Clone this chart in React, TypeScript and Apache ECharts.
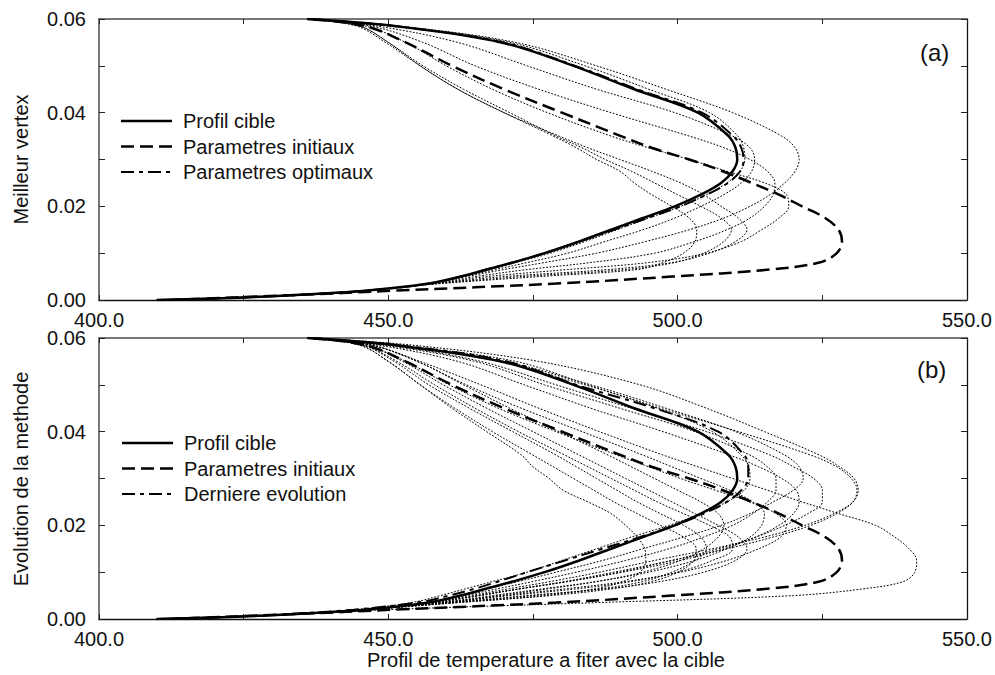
import React, { useEffect, useRef } from 'react';
import * as echarts from 'echarts';

// Shared y levels (vertical axis) at which every profile is sampled
const yLevels = [0, 0.0005, 0.001, 0.002, 0.0035, 0.005, 0.0065, 0.008, 0.01, 0.0125, 0.015, 0.0175, 0.02, 0.0225, 0.025, 0.0275, 0.03, 0.0325, 0.035, 0.04, 0.045, 0.05, 0.055, 0.0585, 0.06];

const xTickLabels = ['400.0', '450.0', '500.0', '550.0'];
const yTickLabels = ['0.00', '0.02', '0.04', '0.06'];

// Common curves
const profilCible = [410, 424, 433, 446, 457, 462.5, 467, 471.5, 477, 483, 488.5, 494, 499.5, 504, 507.5, 509.5, 510.3, 510, 508.8, 503.5, 492.5, 482, 469.5, 451, 436];
const parametresInitiaux = [412, 422, 433, 451, 479, 499, 516, 524.5, 527.5, 528.4, 527.8, 525.5, 521.5, 517.5, 512.8, 507.8, 502, 495.5, 490.2, 480, 470, 461, 453, 446, 436];

// Panel (a)
const parametresOptimaux = [410, 424, 433, 446, 457, 462.5, 467, 471.5, 477, 483, 489, 494.8, 500.5, 505, 508.7, 510.8, 511.4, 511, 509.6, 504.2, 493, 482.3, 469.8, 451, 436];
const vertexA1 = [410, 424, 433, 446, 457, 463.5, 470, 477, 486, 494.5, 502, 508, 512.5, 516, 518.5, 520.3, 521, 520.3, 518, 509.5, 498, 486, 472, 452, 437];
const vertexA2 = [410, 424, 433, 446, 457, 462.5, 467.5, 472, 478, 484, 489.5, 495, 500.5, 505, 508.5, 510.8, 511.6, 511.4, 510.4, 505.5, 495, 484, 471, 451.5, 436];
const vertexA3 = [410, 424, 433, 446, 457, 463, 468.5, 474, 481, 487.5, 494, 499.5, 504, 508, 511, 512.8, 513.3, 512.5, 509.5, 499.5, 486, 474, 462, 448, 436];
const vertexA4 = [410, 424, 433, 446, 457.5, 465, 474, 485, 496, 503, 508.5, 512.5, 515, 516.5, 516.8, 515.5, 512.5, 508, 502, 488.5, 476, 465, 456, 447, 436];
const vertexA5 = [410, 424, 433, 446, 458, 467, 481, 495, 505, 511, 514.5, 517.5, 519.2, 518.8, 515, 508.5, 502, 495, 488.5, 477.5, 468, 460, 453, 446, 436];
const vertexA6 = [410, 424, 433, 446, 458, 470, 488, 499, 505.5, 510, 512, 510.5, 507.5, 504.5, 500.5, 495.5, 490, 484.5, 479.5, 470, 462, 455.5, 450, 445, 436];
const vertexA7 = [410, 424, 433, 446, 458.5, 473, 491, 499.5, 504.5, 508, 509.3, 507.5, 504, 500, 496, 492, 487.5, 483.5, 479, 471, 463, 456, 450, 445, 436];
const vertexA8 = [410, 424, 433, 446, 459, 476, 493, 497.5, 501, 503, 503.3, 502, 499, 495.5, 492.5, 490, 486, 482.5, 478.5, 470, 462, 455.5, 449.5, 444.5, 436];

// Panel (b)
const derniereEvolution = [410, 423, 432, 444, 455, 460.5, 465, 469, 474, 480.5, 487, 493.5, 499.5, 504.5, 508.5, 511, 512.2, 512.2, 511.5, 507, 496, 482.5, 470.5, 451.5, 436];
const evolB1 = [410, 424, 434, 450, 486, 520, 532.5, 539, 541, 541.3, 540, 537.5, 534.2, 527.8, 521.5, 515.5, 509.5, 503.5, 497.5, 486.5, 476, 466, 455.5, 447, 436];
const evolB2 = [410, 424, 433, 446, 457, 464, 471, 478, 486.5, 496, 506, 515, 522, 527, 530.3, 531.2, 530.5, 528, 524.5, 515, 505, 493.5, 476, 454, 437];
const evolB3 = [410, 424, 433, 446, 457.5, 465.5, 473, 480.5, 489, 499, 508.5, 516.5, 523, 527.5, 530.3, 531, 530, 527.5, 523, 510.5, 497, 484, 469, 450, 436];
const evolB4 = [410, 424, 433, 446, 458, 466, 473, 481, 490, 499, 507, 513.5, 518.5, 522.5, 525, 525, 523.5, 520, 516, 505, 492, 479, 466, 450, 436];
const evolB5 = [410, 424, 433, 446, 457, 462, 467, 472.5, 479, 487, 494, 501, 507.5, 512.5, 516.5, 520, 521.7, 521, 518.5, 510, 498, 485, 470, 451, 436];
const evolB6 = [410, 424, 433, 446, 457, 463, 469, 475, 482.5, 491, 498.5, 504.5, 509.5, 513, 515.5, 517, 517, 515.5, 512.5, 503, 490, 477, 465, 449, 436];
const evolB7 = [410, 423, 432, 444, 454, 459, 463.5, 468, 474, 480, 486, 492, 498.5, 504, 508.5, 511.5, 512.5, 512.3, 511, 506, 496.5, 484.5, 472, 451, 436];
const evolB8 = [410, 424, 433, 446, 458, 465, 473, 481, 490.5, 500.5, 508, 513.5, 517.5, 520, 521, 520.5, 518, 514, 509, 497.5, 485, 473.5, 462, 448, 436];
const evolB9 = [410, 424, 433, 446, 460, 470, 481, 491, 500.5, 508.5, 514, 517.8, 518.8, 517, 512.5, 506.5, 500.5, 495, 489.5, 479, 469, 460.5, 453, 446, 436];
const evolB10 = [410, 424, 433, 446, 461, 474, 488, 497, 504.5, 510, 512, 510.5, 507, 503, 499, 495, 491, 487, 483, 475, 467, 459.5, 452.5, 446, 436];
const evolB11 = [410, 424, 433, 446, 460, 471, 483, 492, 500, 506, 509.5, 509, 505.5, 501, 496.5, 492.5, 488.5, 484.5, 480.5, 472.5, 465, 458, 451.5, 445.5, 436];
const evolB12 = [410, 424, 433, 446, 461, 475, 487, 494, 499, 503, 505, 504, 501, 497, 493, 489.5, 486, 482.5, 479, 471.5, 464, 457, 451, 445.5, 436];
const evolB13 = [410, 424, 433, 446, 462, 478, 489, 495.5, 500, 502.8, 503.2, 501, 497, 493, 489, 485.5, 482, 478.5, 475, 468, 461.5, 455.5, 450, 445, 436];
const evolB14 = [410, 424, 433, 446, 462, 477, 486, 490.5, 493.5, 494.5, 494.3, 493, 491, 488.5, 484.5, 480.2, 477.8, 475, 473, 467, 461, 455.5, 450, 445, 436];
const evolB15 = [410, 424, 433, 446, 459, 468, 477, 486, 495, 503, 508.5, 512.5, 514.5, 515, 513, 509, 504, 499, 494, 483.5, 473, 463.5, 455, 447, 436];
const evolB16 = [410, 424, 433, 446, 459, 469, 478, 486, 494, 500.5, 504.5, 507, 508, 507, 504, 500, 496, 492, 488, 479.5, 471, 463, 455, 447, 436];

const dottedA = [vertexA1, vertexA2, vertexA3, vertexA4, vertexA5, vertexA6, vertexA7, vertexA8];
const dottedB = [evolB1, evolB2, evolB3, evolB4, evolB5, evolB6, evolB7, evolB8, evolB9, evolB10, evolB11, evolB12, evolB13, evolB14, evolB15, evolB16];

const FONT = 'Liberation Sans, Arial, Helvetica, sans-serif';
const SOLID_W = 2.5;
const DASH = [13, 6];
const DASHDOT = [13, 5, 4, 5];

const pairs = (xs: number[]) => xs.map((x, i) => [x, yLevels[i]]);

const findLabel = (labels: string[], v: number) => {
  const l = labels.find((s) => Math.abs(parseFloat(s) - v) < 1e-9);
  return l === undefined ? '' : l;
};

export default function App() {
  const ref = useRef<HTMLDivElement>(null);
  useEffect(() => {
    if (!ref.current) return;
    const chart = echarts.init(ref.current, undefined, { renderer: 'svg' });
    const darkLine = { color: '#111', width: 1.3 };
    const greyLine = { color: '#777', width: 2 };
    const tickStyle = { color: '#222', width: 1 };

    const grids = [
      { left: 99, top: 19, width: 868, height: 281 },
      { left: 99, top: 338, width: 868, height: 281 },
    ];

    const xAxes: any[] = [];
    const yAxes: any[] = [];
    grids.forEach((_, gi) => {
      ['bottom', 'top'].forEach((pos) => {
        xAxes.push({
          gridIndex: gi,
          type: 'value',
          position: pos,
          min: 400,
          max: 550,
          interval: 50,
          axisLine: { show: true, onZero: false, lineStyle: pos === 'top' ? greyLine : darkLine },
          axisTick: { show: true, inside: true, length: 5, lineStyle: tickStyle },
          minorTick: { show: true, splitNumber: 2, length: 5, lineStyle: tickStyle },
          splitLine: { show: false },
          minorSplitLine: { show: false },
          axisLabel: {
            show: pos === 'bottom',
            margin: 10,
            fontSize: 20,
            fontFamily: FONT,
            color: '#111',
            formatter: (v: number) => findLabel(xTickLabels, v),
          },
        });
      });
      ['left', 'right'].forEach((pos) => {
        yAxes.push({
          gridIndex: gi,
          type: 'value',
          position: pos,
          min: 0,
          max: 0.06,
          interval: 0.02,
          axisLine: { show: true, onZero: false, lineStyle: pos === 'left' ? greyLine : darkLine },
          axisTick: { show: true, inside: true, length: 6, lineStyle: tickStyle },
          minorTick: { show: true, splitNumber: 2, length: 6, lineStyle: tickStyle },
          splitLine: { show: false },
          minorSplitLine: { show: false },
          axisLabel: {
            show: pos === 'left',
            margin: 13,
            fontSize: 20,
            fontFamily: FONT,
            color: '#111',
            formatter: (v: number) => findLabel(yTickLabels, v),
          },
        });
      });
    });

    const mk = (name: string, xs: number[], gi: number, lineStyle: any, z: number) => ({
      name,
      type: 'line',
      xAxisIndex: gi * 2,
      yAxisIndex: gi * 2,
      data: pairs(xs),
      smooth: 0.35,
      symbol: 'none',
      clip: true,
      z,
      lineStyle: { color: '#000', ...lineStyle },
      emphasis: { disabled: true },
    });

    const dottedStyle = { width: 1, type: [1.8, 1.6], color: '#000' };
    const series: any[] = [];
    dottedA.forEach((c, i) => series.push(mk('vertex ' + (i + 1), c, 0, dottedStyle, 2)));
    series.push(mk('Parametres initiaux', parametresInitiaux, 0, { width: SOLID_W, type: DASH }, 3));
    series.push(mk('Parametres optimaux', parametresOptimaux, 0, { width: 2, type: DASHDOT }, 4));
    series.push(mk('Profil cible', profilCible, 0, { width: SOLID_W, type: 'solid' }, 5));
    dottedB.forEach((c, i) => series.push(mk('evolution ' + (i + 1), c, 1, dottedStyle, 2)));
    series.push(mk('Parametres initiaux', parametresInitiaux, 1, { width: SOLID_W, type: DASH }, 3));
    series.push(mk('Derniere evolution', derniereEvolution, 1, { width: 2, type: DASHDOT }, 4));
    series.push(mk('Profil cible', profilCible, 1, { width: SOLID_W, type: 'solid' }, 5));

    const textStyle = (extra: any) => ({ fontSize: 20, fontFamily: FONT, fill: '#111', ...extra });

    const legend = (top: number, labels: string[], startX: number, textX: number) => {
      const dashes = [null, DASH, DASHDOT];
      const els: any[] = [];
      labels.forEach((lab, i) => {
        const y = top + i * 25.5;
        els.push({
          type: 'line',
          shape: { x1: startX, y1: y, x2: startX + 51, y2: y },
          style: { stroke: '#000', lineWidth: i === 2 ? 2 : SOLID_W, lineDash: dashes[i] || undefined },
        });
        els.push({
          type: 'text',
          x: textX,
          y,
          style: textStyle({ text: lab, textAlign: 'left', textVerticalAlign: 'middle' }),
        });
      });
      return els;
    };

    const graphic: any[] = [
      ...legend(121, ['Profil cible', 'Parametres initiaux', 'Parametres optimaux'], 121, 183),
      ...legend(443, ['Profil cible', 'Parametres initiaux', 'Derniere evolution'], 122, 184),
      { type: 'text', x: 920, y: 52, style: textStyle({ text: '(a)', fontSize: 24, textAlign: 'left', textVerticalAlign: 'middle' }) },
      { type: 'text', x: 917, y: 369, style: textStyle({ text: '(b)', fontSize: 24, textAlign: 'left', textVerticalAlign: 'middle' }) },
      { type: 'text', x: 21, y: 159.5, rotation: Math.PI / 2, style: textStyle({ text: 'Meilleur vertex', textAlign: 'center', textVerticalAlign: 'middle' }) },
      { type: 'text', x: 21, y: 479, rotation: Math.PI / 2, style: textStyle({ text: 'Evolution de la methode', textAlign: 'center', textVerticalAlign: 'middle' }) },
      { type: 'text', x: 546, y: 660, style: textStyle({ text: 'Profil de temperature a fiter avec la cible', textAlign: 'center', textVerticalAlign: 'middle' }) },
    ];

    chart.setOption({
      animation: false,
      backgroundColor: '#fff',
      grid: grids,
      xAxis: xAxes,
      yAxis: yAxes,
      series,
      graphic,
    });
    return () => chart.dispose();
  }, []);

  return <div ref={ref} style={{ position: 'fixed', left: 0, top: 0, width: 995, height: 675, background: '#fff' }} />;
}
